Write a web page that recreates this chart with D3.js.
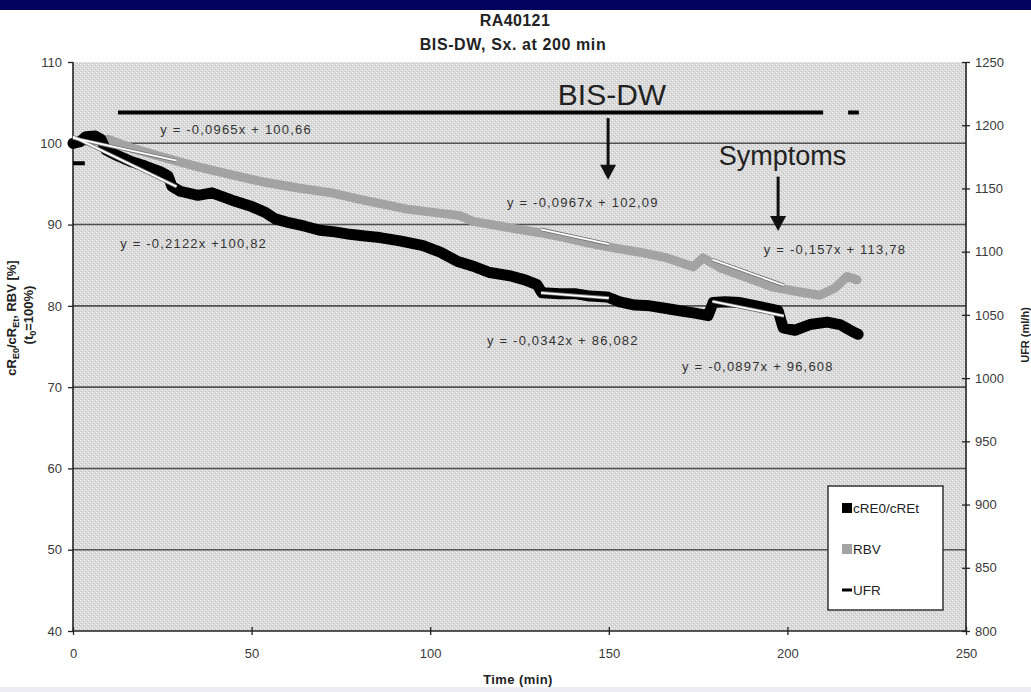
<!DOCTYPE html>
<html>
<head>
<meta charset="utf-8">
<script src="https://cdn.jsdelivr.net/npm/d3@7.9.0/dist/d3.min.js"></script>
<style>
  body { margin: 0; background: #fff; }
  svg { display: block; font-family: "Liberation Sans", Arial, sans-serif; }
  .tick-label { font-size: 13px; fill: #3a3a3a; }
  .eq { font-size: 13px; fill: #333; letter-spacing: 1.2px; }
</style>
</head>
<body>
<svg id="chart" width="1031" height="692"></svg>
<script>
// cRE0/cREt [%] over time (min)
const creTime = [0, 2, 3.6, 6.2, 7.8, 9.2, 11.8, 16, 20.2, 24.4, 26.6, 27.7, 30, 35, 38.9, 44.5, 49.6, 53.8, 56.6, 60.8,
  64.9, 69.1, 73.3, 77.5, 81.7, 85.9, 91.5, 98, 102.8, 107.5, 112.5, 116.7, 122.3, 126.5, 129.9, 131.3, 136.3, 140.5,
  144.7, 149.5, 153.1, 157.3, 161.5, 165.7, 169.9, 174.1, 177.8, 179.2, 182.5, 186.7, 192.3, 197.4, 198.8, 202.1,
  206.3, 211.1, 214.7, 218.4, 219.8];
const creValue = [100, 100.2, 100.8, 100.9, 100.5, 99.2, 98.6, 97.8, 97.2, 96.5, 96, 94.7, 94.1, 93.6, 93.9, 93, 92.3,
  91.5, 90.7, 90.2, 89.8, 89.3, 89.1, 88.8, 88.6, 88.4, 88, 87.4, 86.6, 85.5, 84.8, 84.1, 83.7, 83.2, 82.6, 81.6, 81.5,
  81.5, 81.2, 81.1, 80.5, 80.1, 80, 79.7, 79.4, 79.1, 78.8, 80.4, 80.5, 80.4, 79.9, 79.4, 77.3, 77, 77.7, 78, 77.7,
  76.8, 76.5];

// RBV [%]
const rbvTime = [0, 4.8, 9.8, 16.5, 25.8, 35, 44.5, 53.8, 63, 72.5, 80.3, 93.5, 108.3, 112, 122.3, 130.7, 137.7, 144.7,
  151.7, 158.7, 166.3, 173.6, 176.4, 181.1, 186.7, 196, 203.5, 209.1, 213.3, 216.7, 219.5];
const rbvValue = [100, 100.3, 100.5, 99.4, 98.2, 97.1, 96.1, 95.2, 94.5, 93.9, 93.1, 91.9, 91.1, 90.4, 89.6, 89, 88.4,
  87.7, 87.1, 86.6, 85.9, 84.8, 85.9, 84.7, 83.8, 82.3, 81.7, 81.3, 82.2, 83.6, 83.2];

// UFR (ml/h), null = no value
const ufrTime = [0, 3.3, 8, 12.6, 210, 214, 217, 220];
const ufrValue = [1170, 1170, null, 1210, 1210, null, 1210, 1210];

// linear trend fits: slope, intercept, fitted range
const trendSlope = [-0.0965, -0.2122, -0.0967, -0.157, -0.0342, -0.0897];
const trendIntercept = [100.66, 100.82, 102.09, 113.78, 86.082, 96.608];
const trendFrom = [0, 0, 131, 179, 131, 179];
const trendTo = [29, 29, 150, 199, 150, 199];
const trendLabel = ['y = -0,0965x + 100,66', 'y = -0,2122x +100,82', 'y = -0,0967x + 102,09',
  'y = -0,157x + 113,78', 'y = -0,0342x + 86,082', 'y = -0,0897x + 96,608'];
// label anchor in data units (time, %)
const labelAt = [[24.4, 101.1], [13.2, 87.1], [121.5, 92.2], [193.4, 86.4], [115.9, 75.2], [170.5, 72.0]];

const xTicks = [0, 50, 100, 150, 200, 250];
const yTicks = [40, 50, 60, 70, 80, 90, 100, 110];
const y2Ticks = [800, 850, 900, 950, 1000, 1050, 1100, 1150, 1200, 1250];
const gridValues = [50, 60, 70, 80, 90, 100];

const svg = d3.select('#chart');
const plotLeft = 73, plotRight = 966, plotTop = 62, plotBottom = 631;

const x = d3.scaleLinear().domain([0, 250]).range([plotLeft, plotRight]);
const y = d3.scaleLinear().domain([40, 110]).range([plotBottom, plotTop]);
const y2 = d3.scaleLinear().domain([800, 1250]).range([plotBottom, plotTop]);

// header bar
svg.append('rect').attr('x', 0).attr('y', 0).attr('width', 1031).attr('height', 10).attr('fill', '#02025e');
svg.append('rect').attr('x', 0).attr('y', 687).attr('width', 1031).attr('height', 5).attr('fill', '#ececf2');

// dotted plot background
const defs = svg.append('defs');
const pat = defs.append('pattern').attr('id', 'dots').attr('width', 4).attr('height', 4)
  .attr('patternUnits', 'userSpaceOnUse');
pat.append('rect').attr('width', 4).attr('height', 4).attr('fill', '#dadada');
pat.append('rect').attr('x', 0).attr('y', 0).attr('width', 1).attr('height', 1).attr('fill', '#f4f4f4');
pat.append('rect').attr('x', 2).attr('y', 2).attr('width', 1).attr('height', 1).attr('fill', '#f4f4f4');
pat.append('rect').attr('x', 1).attr('y', 3).attr('width', 1).attr('height', 1).attr('fill', '#c2c2c2');
pat.append('rect').attr('x', 3).attr('y', 1).attr('width', 1).attr('height', 1).attr('fill', '#c2c2c2');

svg.append('rect').attr('x', plotLeft).attr('y', plotTop).attr('width', plotRight - plotLeft)
  .attr('height', plotBottom - plotTop).attr('fill', 'url(#dots)');

// gridlines
svg.append('g').selectAll('line').data(gridValues).join('line')
  .attr('x1', plotLeft).attr('x2', plotRight).attr('y1', (d) => y(d)).attr('y2', (d) => y(d))
  .attr('stroke', '#505050').attr('stroke-width', 1.6);

// axes
const gx = svg.append('g').attr('transform', `translate(0,${plotBottom})`)
  .call(d3.axisBottom(x).tickValues(xTicks).tickSize(4).tickPadding(14));
gx.selectAll('.tick line').attr('y1', -4);
const gy = svg.append('g').attr('transform', `translate(${plotLeft},0)`)
  .call(d3.axisLeft(y).tickValues(yTicks).tickSize(5).tickPadding(6));
const gy2 = svg.append('g').attr('transform', `translate(${plotRight},0)`)
  .call(d3.axisRight(y2).tickValues(y2Ticks).tickFormat(d3.format('d')).tickSize(4).tickPadding(5));
gy2.selectAll('.tick line').attr('x1', -4);

[gx, gy, gy2].forEach((g) => {
  g.attr('font-family', null).attr('font-size', null);
  g.select('.domain').attr('stroke', '#222').attr('stroke-width', 1.6);
  g.selectAll('.tick line').attr('stroke', '#222').attr('stroke-width', 1.3);
  g.selectAll('.tick text').attr('class', 'tick-label').attr('fill', null);
});
gy.select('.domain').attr('d', `M0,${plotTop}V${plotBottom}`);
gy2.select('.domain').attr('d', `M0,${plotTop}V${plotBottom}`);
gx.select('.domain').attr('d', `M${plotLeft},0H${plotRight}`);

// series
const crePoints = creTime.map((t, i) => ({ t, v: creValue[i] }));
const rbvPoints = rbvTime.map((t, i) => ({ t, v: rbvValue[i] }));
const ufrPoints = ufrTime.map((t, i) => ({ t, v: ufrValue[i] }));

const line = d3.line().x((d) => x(d.t)).y((d) => y(d.v));
const ufrLine = d3.line().defined((d) => d.v != null).x((d) => x(d.t)).y((d) => y2(d.v));

svg.append('path').datum(rbvPoints).attr('d', line).attr('fill', 'none')
  .attr('stroke', '#a3a3a3').attr('stroke-width', 9).attr('stroke-linejoin', 'round').attr('stroke-linecap', 'round');
svg.append('path').datum(crePoints).attr('d', line).attr('fill', 'none')
  .attr('stroke', '#000').attr('stroke-width', 11).attr('stroke-linejoin', 'round').attr('stroke-linecap', 'round');
svg.append('path').datum(ufrPoints).attr('d', ufrLine).attr('fill', 'none')
  .attr('stroke', '#000').attr('stroke-width', 4);

// trend lines
const trends = trendSlope.map((m, i) => ({
  m, b: trendIntercept[i], t0: trendFrom[i], t1: trendTo[i], label: trendLabel[i], at: labelAt[i],
}));
const tg = svg.append('g');
tg.selectAll('line.edge').data(trends).join('line').attr('class', 'edge')
  .attr('x1', (d) => x(d.t0)).attr('y1', (d) => y(d.m * d.t0 + d.b))
  .attr('x2', (d) => x(d.t1)).attr('y2', (d) => y(d.m * d.t1 + d.b))
  .attr('stroke', '#777').attr('stroke-width', 3.5);
tg.selectAll('line.core').data(trends).join('line').attr('class', 'core')
  .attr('x1', (d) => x(d.t0)).attr('y1', (d) => y(d.m * d.t0 + d.b))
  .attr('x2', (d) => x(d.t1)).attr('y2', (d) => y(d.m * d.t1 + d.b))
  .attr('stroke', '#fff').attr('stroke-width', 1.8);
tg.selectAll('text').data(trends).join('text').attr('class', 'eq')
  .attr('x', (d) => x(d.at[0])).attr('y', (d) => y(d.at[1])).text((d) => d.label);

// event annotations
function arrow(t, vTop, vTip) {
  const xp = x(t);
  svg.append('line').attr('x1', xp).attr('x2', xp).attr('y1', y(vTop)).attr('y2', y(vTip) - 12)
    .attr('stroke', '#111').attr('stroke-width', 3);
  svg.append('path').attr('d', `M${xp - 8},${y(vTip) - 15}L${xp + 8},${y(vTip) - 15}L${xp},${y(vTip)}Z`)
    .attr('fill', '#111');
}
svg.append('text').attr('x', x(150.9)).attr('y', y(104.7)).attr('text-anchor', 'middle')
  .attr('font-size', 30).attr('fill', '#222').text('BIS-DW');
arrow(149.8, 103.1, 95.5);
svg.append('text').attr('x', x(198.6)).attr('y', y(97.3)).attr('text-anchor', 'middle')
  .attr('font-size', 27).attr('fill', '#222').text('Symptoms');
arrow(197.4, 95.9, 89.2);

// legend
const lg = svg.append('g').attr('transform', 'translate(828,486)');
lg.append('rect').attr('width', 115).attr('height', 124).attr('fill', '#fff')
  .attr('stroke', '#333').attr('stroke-width', 1.5);
const legendItems = [
  { name: 'cRE0/cREt', kind: 'square', color: '#000' },
  { name: 'RBV', kind: 'square', color: '#a3a3a3' },
  { name: 'UFR', kind: 'dash', color: '#000' },
];
legendItems.forEach((d, i) => {
  const cy = 22 + i * 41;
  if (d.kind === 'square') {
    lg.append('rect').attr('x', 14).attr('y', cy - 5).attr('width', 10).attr('height', 10).attr('fill', d.color);
  } else {
    lg.append('rect').attr('x', 14).attr('y', cy - 1.5).attr('width', 10).attr('height', 3).attr('fill', d.color);
  }
  lg.append('text').attr('x', 25).attr('y', cy + 5).attr('font-size', 13.5).attr('fill', '#222').text(d.name);
});

// titles
svg.append('text').attr('x', 515).attr('y', 26).attr('text-anchor', 'middle').attr('font-weight', 'bold')
  .attr('font-size', 16).attr('letter-spacing', 0.4).attr('fill', '#222').text('RA40121');
svg.append('text').attr('x', 513).attr('y', 50).attr('text-anchor', 'middle').attr('font-weight', 'bold')
  .attr('font-size', 16).attr('letter-spacing', 0.6).attr('fill', '#222').text('BIS-DW, Sx. at 200 min');
svg.append('text').attr('x', 518).attr('y', 684).attr('text-anchor', 'middle').attr('font-weight', 'bold')
  .attr('font-size', 13).attr('letter-spacing', 0.4).attr('fill', '#222').text('Time (min)');

const yl = svg.append('text').attr('transform', 'translate(16,318) rotate(-90)').attr('text-anchor', 'middle')
  .attr('font-weight', 'bold').attr('font-size', 13).attr('fill', '#222');
yl.append('tspan').text('cR');
yl.append('tspan').attr('font-size', 9).attr('dy', 3).text('E0');
yl.append('tspan').attr('dy', -3).text('/cR');
yl.append('tspan').attr('font-size', 9).attr('dy', 3).text('Et');
yl.append('tspan').attr('dy', -3).text(', RBV [%]');
const yl2 = svg.append('text').attr('transform', 'translate(33,315) rotate(-90)').attr('text-anchor', 'middle')
  .attr('font-weight', 'bold').attr('font-size', 13).attr('fill', '#222');
yl2.append('tspan').text('(t');
yl2.append('tspan').attr('font-size', 9).attr('dy', 3).text('0');
yl2.append('tspan').attr('dy', -3).text('=100%)');

svg.append('text').attr('transform', 'translate(1029,335) rotate(-90)').attr('text-anchor', 'middle')
  .attr('font-weight', 'bold').attr('font-size', 11).attr('fill', '#222').text('UFR (ml/h)');
</script>
</body>
</html>
